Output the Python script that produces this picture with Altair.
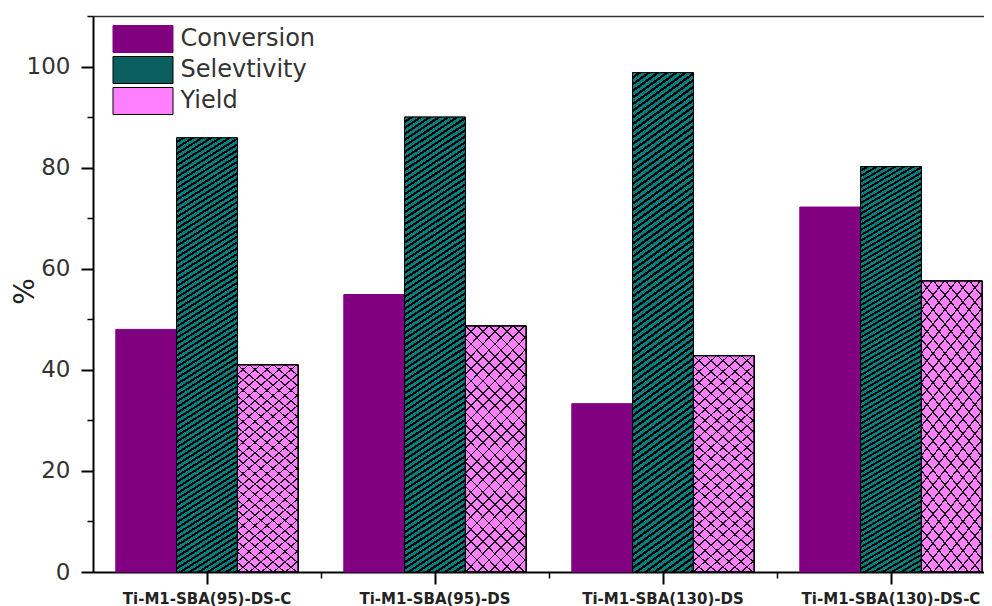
import math
import altair as alt
import pandas as pd

# ---------------- data ----------------
categories = ["Ti-M1-SBA(95)-DS-C", "Ti-M1-SBA(95)-DS", "Ti-M1-SBA(130)-DS", "Ti-M1-SBA(130)-DS-C"]
series_names = ["Conversion", "Selevtivity", "Yield"]
conversion = [48.0, 54.9, 33.3, 72.2]
selectivity = [85.9, 90.0, 98.8, 80.2]
yield_values = [41.0, 48.7, 42.8, 57.6]
y_major_ticks = [0, 20, 40, 60, 80, 100]
y_minor_ticks = [10, 30, 50, 70, 90, 110]

rows = []
for i, cat in enumerate(categories):
    for name, vals in zip(series_names, [conversion, selectivity, yield_values]):
        rows.append({"category": cat, "series": name, "value": vals[i]})
df = pd.DataFrame(rows)


# ---------------- hatch fills (linear gradients with hard stops) ----------------
def stripes(theta_deg, up, W, H, spacing, frac, line_color, bg_color):
    t = math.radians(theta_deg)
    A = math.sin(t) * W
    B = math.cos(t) * H
    k = (A + B) / (A * A + B * B)
    n = max(1, round((A + B) / spacing))
    stops = []
    for i in range(n):
        a = round(i / n, 5)
        b = round((i + 1 - frac) / n, 5)
        c = round((i + 1) / n, 5)
        stops += [
            {"offset": a, "color": bg_color},
            {"offset": b, "color": bg_color},
            {"offset": b, "color": line_color},
            {"offset": c, "color": line_color},
        ]
    if up:
        x1, y1, x2, y2 = 0, 0, k * A, k * B
    else:
        x1, y1, x2, y2 = 0, 1, k * A, 1 - k * B
    return {"gradient": "linear", "x1": x1, "y1": y1, "x2": round(x2, 5), "y2": round(y2, 5), "stops": stops}


teal_fill = stripes(33, True, 61, 450, 5.0, 0.45, "#000000", "#008080")
pink_fill_a = stripes(45, True, 61, 240, 8.5, 0.14, "#111111", "rgba(0,0,0,0)")
pink_fill_b = stripes(45, False, 61, 240, 8.5, 0.14, "#111111", "rgba(0,0,0,0)")

FONT = "DejaVu Sans"

x_scale = alt.Scale(domain=categories, range=[0, 912], paddingInner=0.2, paddingOuter=0.1)
y_scale = alt.Scale(domain=[0, 110], nice=False, zero=True)
xoff = alt.XOffset("series:N", scale=alt.Scale(domain=series_names, paddingInner=0, paddingOuter=0))

main_x_axis = alt.Axis(
    orient="bottom", title=None, labelAngle=0, labelFont=FONT, labelFontSize=15, labelFontWeight="bold",
    labelColor="#222222", labelPadding=7, tickSize=12, tickWidth=2, tickColor="black",
    domainColor="black", domainWidth=2, grid=False, labelOverlap=False,
)
minor_x_axis = alt.Axis(
    orient="bottom", title=None, labels=False, domain=False, bandPosition=1.125, tickSize=6,
    tickWidth=1.5, tickColor="black", grid=False,
)
top_x_axis = alt.Axis(
    orient="top", title=None, labels=False, ticks=False, domain=True,
    domainColor="#333333", domainWidth=1.5, grid=False,
)
main_y_axis = alt.Axis(
    orient="left", values=y_major_ticks, title="%", titleFont=FONT, titleFontSize=28,
    titleFontWeight="normal", titleColor="#222222", titleAngle=270, titleBaseline="alphabetic",
    titleAlign="center", titleX=-60, titleY=275,
    labelFont=FONT, labelFontSize=23, labelColor="#333333", labelPadding=11,
    tickSize=12, tickWidth=2, tickColor="black", domainColor="black", domainWidth=2, grid=False,
)
minor_y_axis = alt.Axis(
    orient="left", values=y_minor_ticks, title=None, labels=False, domain=False, tickSize=6,
    tickWidth=1.5, tickColor="black", grid=False,
)

legend = alt.Legend(
    orient="none", legendX=34.5, legendY=7.5, title=None,
    symbolType="M-2,-0.9H2V0.9H-2Z", symbolSize=900, symbolStrokeWidth=1,
    labelFont=FONT, labelFontSize=24, labelColor="#333333", labelOffset=22,
    rowPadding=-1, padding=0, symbolOpacity=1,
)

base = alt.Chart(df)

bars = base.mark_bar(strokeWidth=1).encode(
    x=alt.X("category:N", scale=x_scale, axis=main_x_axis),
    xOffset=xoff,
    y=alt.Y("value:Q", scale=y_scale, axis=main_y_axis),
    color=alt.Color("series:N", scale=alt.Scale(domain=series_names, range=["#800080", "#0b5e5e", "#ff80ff"]), legend=legend),
    stroke=alt.Stroke("series:N", scale=alt.Scale(domain=series_names, range=["#800080", "#000000", "#000000"]), legend=legend),
)

teal = base.transform_filter(alt.datum.series == "Selevtivity").mark_bar(
    fill=teal_fill, stroke="black", strokeWidth=1
).encode(
    x=alt.X("category:N", scale=x_scale, axis=minor_x_axis),
    xOffset=xoff,
    y=alt.Y("value:Q", scale=y_scale, axis=minor_y_axis),
)

pink_a = base.transform_filter(alt.datum.series == "Yield").mark_bar(
    fill=pink_fill_a, stroke="black", strokeWidth=1
).encode(
    x=alt.X("category:N", scale=x_scale, axis=top_x_axis),
    xOffset=xoff,
    y=alt.Y("value:Q", scale=y_scale, axis=None),
)

pink_b = base.transform_filter(alt.datum.series == "Yield").mark_bar(
    fill=pink_fill_b, stroke="black", strokeWidth=1
).encode(
    x=alt.X("category:N", scale=x_scale, axis=None),
    xOffset=xoff,
    y=alt.Y("value:Q", scale=y_scale, axis=None),
)

chart = (
    alt.layer(bars, teal, pink_a, pink_b)
    .resolve_axis(x="independent", y="independent")
    .properties(
        width=891, height=556,
        autosize=alt.AutoSizeParams(type="none"),
        padding={"left": 85, "top": 8, "right": 0, "bottom": 34},
    )
    .configure_view(stroke=None)
    .configure(background="white", font=FONT)
)

chart.save("out.html", embed_options={"renderer": "svg", "actions": False})
